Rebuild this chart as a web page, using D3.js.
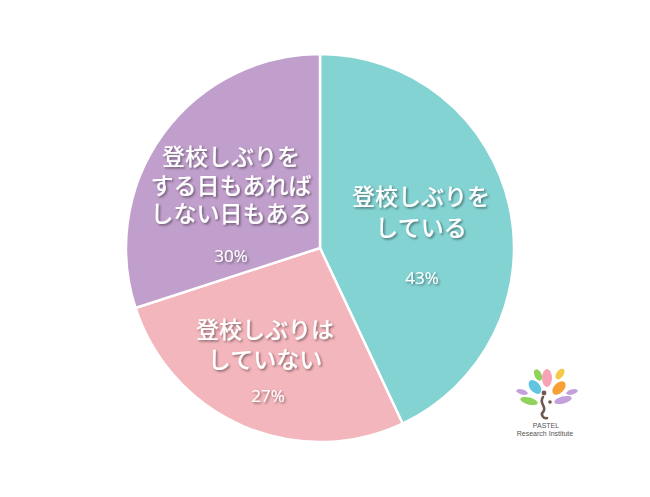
<!DOCTYPE html>
<html>
<head>
<meta charset="utf-8">
<script src="https://cdn.jsdelivr.net/npm/d3@7/dist/d3.min.js"></script>
<style>
  html, body { margin: 0; padding: 0; background: #fff; }
  svg { display: block; }
</style>
</head>
<body>
<svg id="chart" width="650" height="497"></svg>
<script>
// Answers to the school-reluctance question (percent)
const categories = [
  ["登校しぶりを", "している"],
  ["登校しぶりは", "していない"],
  ["登校しぶりを", "する日もあれば", "しない日もある"]
];
const values = [43, 27, 30];
const valueLabels = ["43%", "27%", "30%"];
const colors = ["#84d3d3", "#f4b6bd", "#c19fcc"];

const svg = d3.select("#chart");
const cx = 320, cy = 248, radius = 194;

const defs = svg.append("defs");
const shadow = defs.append("filter").attr("id", "txtShadow")
  .attr("x", "-20%").attr("y", "-20%").attr("width", "140%").attr("height", "140%");
shadow.append("feDropShadow")
  .attr("dx", 1.5).attr("dy", 1.5).attr("stdDeviation", 1.1)
  .attr("flood-color", "#000").attr("flood-opacity", 0.45);

const pie = d3.pie().sort(null).value(d => d);
const arcs = pie(values);
const arc = d3.arc().innerRadius(0).outerRadius(radius);

const g = svg.append("g").attr("transform", `translate(${cx},${cy})`);

g.selectAll("path.slice")
  .data(arcs)
  .join("path")
  .attr("class", "slice")
  .attr("d", arc)
  .attr("fill", (d, i) => colors[i])
  .attr("stroke", "#fff")
  .attr("stroke-width", 2.5);

// Label anchors, relative to the centre, per slice
const labelPos = [
  { x: 101, y: -53, lineH: 31, pctX: 102, pctY: 29 },
  { x: -55, y: 80, lineH: 30, pctX: -52, pctY: 147 },
  { x: -89, y: -93, lineH: 28.5, pctX: -89, pctY: 7 }
];

const font = "'Noto Sans CJK JP', 'Noto Sans', sans-serif";

arcs.forEach((a, i) => {
  const p = labelPos[i];
  const lbl = g.append("g").attr("filter", "url(#txtShadow)");
  // multi-line category name as one text block
  const t = lbl.append("text")
    .attr("text-anchor", "middle")
    .attr("fill", "#fff")
    .attr("font-family", font)
    .attr("font-size", 23)
    .attr("font-weight", 500);
  categories[i].forEach((line, k) => {
    t.append("tspan")
      .attr("x", p.x)
      .attr("y", p.y + k * p.lineH)
      .attr("dominant-baseline", "central")
      .text(line);
  });
  lbl.append("text")
    .attr("x", p.pctX)
    .attr("y", p.pctY)
    .attr("text-anchor", "middle")
    .attr("dominant-baseline", "central")
    .attr("fill", "#fff")
    .attr("font-family", "'Open Sans', 'Noto Sans', sans-serif")
    .attr("font-size", 17)
    .text(valueLabels[i]);
});

// Institute logo in the lower right
const logo = svg.append("g");
const leaves = [
  { x: 538, y: 375, rx: 3.5, ry: 6, r: -25, c: "#8fd35a" },
  { x: 547, y: 378, rx: 5, ry: 9, r: 0, c: "#f5a3b5" },
  { x: 535, y: 387, rx: 5, ry: 8, r: -40, c: "#62c5e0" },
  { x: 559, y: 388, rx: 5, ry: 8, r: 45, c: "#f7a035" },
  { x: 560, y: 374, rx: 3.5, ry: 6, r: 35, c: "#f5c84a" },
  { x: 522, y: 392, rx: 6, ry: 2.5, r: 15, c: "#c3a0dc" },
  { x: 529, y: 401, rx: 9, ry: 3.5, r: 15, c: "#8fd35a" },
  { x: 563, y: 400, rx: 9, ry: 3.5, r: -15, c: "#c3a0dc" },
  { x: 572, y: 392, rx: 6, ry: 2.5, r: -15, c: "#c3a0dc" }
];
leaves.forEach(l => {
  logo.append("ellipse")
    .attr("cx", l.x).attr("cy", l.y)
    .attr("rx", l.rx).attr("ry", l.ry)
    .attr("fill", l.c)
    .attr("transform", `rotate(${l.r},${l.x},${l.y})`);
});
logo.append("path")
  .attr("d", "M543,397 C538,404 548,407 543,412 C540,415 544,419 547,418")
  .attr("fill", "none").attr("stroke", "#6e5a4c").attr("stroke-width", 2.6)
  .attr("stroke-linecap", "round");
logo.append("circle").attr("cx", 544).attr("cy", 393).attr("r", 2.4).attr("fill", "#6e5a4c");
logo.append("circle").attr("cx", 550).attr("cy", 402).attr("r", 1.8).attr("fill", "#6e5a4c");
logo.append("text").attr("x", 546).attr("y", 428)
  .attr("text-anchor", "middle").attr("font-family", "'Liberation Sans', sans-serif")
  .attr("font-size", 7).attr("fill", "#555").text("PASTEL");
logo.append("text").attr("x", 545).attr("y", 436)
  .attr("text-anchor", "middle").attr("font-family", "'Liberation Sans', sans-serif")
  .attr("font-size", 7).attr("fill", "#555").text("Research Institute");
</script>
</body>
</html>
